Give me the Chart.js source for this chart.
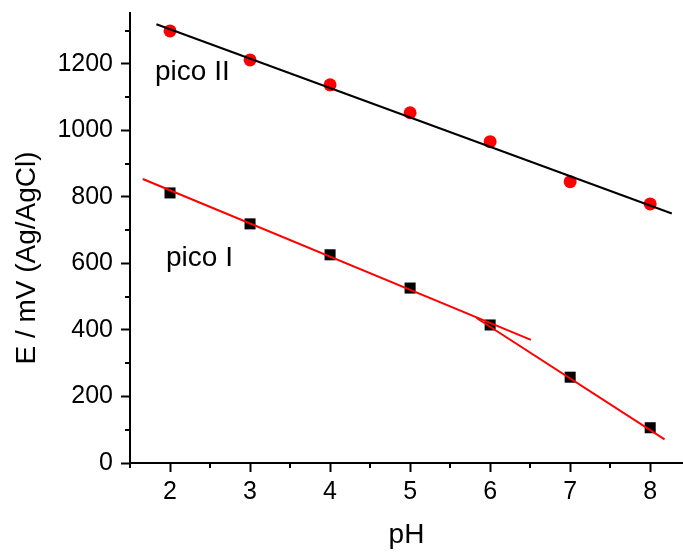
<!DOCTYPE html>
<html>
<head>
<meta charset="utf-8">
<script src="https://cdn.jsdelivr.net/npm/chart.js@4/dist/chart.umd.min.js"></script>
<style>
    body { margin: 0; background: #fff; }
    #wrap { width: 683px; height: 552px; }
</style>
</head>
<body>
<div id="wrap"><canvas id="ph-chart" width="683" height="552"></canvas></div>
<script>
// Measured potentials vs pH
const phValues = [2, 3, 4, 5, 6, 7, 8];
const picoII = [1299, 1212, 1137, 1053, 966, 846, 779];
const picoI = [812, 719, 626, 526, 415, 258, 106];

// Fitted lines (end points)
const fitIIx = [1.83, 8.27];
const fitIIy = [1319, 750];
const fitIax = [1.66, 6.51];
const fitIay = [854, 370];
const fitIbx = [5.83, 8.18];
const fitIby = [436, 71];

// Axis ticks
const xMajor = [2, 3, 4, 5, 6, 7, 8];
const xMinor = [1.5, 2.5, 3.5, 4.5, 5.5, 6.5, 7.5];
const yMajor = [0, 200, 400, 600, 800, 1000, 1200];
const yMinor = [100, 300, 500, 700, 900, 1100, 1300];

const FONT = 'Liberation Sans, Arial, Helvetica, sans-serif';

function toPoints(xs, ys) {
    return xs.map((x, i) => ({ x: x, y: ys[i] }));
}

// drop the label padding chart.js reserves so the plot box follows layout.padding
function fixBox(s) {
    s.paddingTop = 0;
    s.paddingBottom = 0;
    s.paddingLeft = 0;
    s.paddingRight = 0;
    if (s._margins) {
        s._margins.left = 0;
        s._margins.right = 0;
        s._margins.top = 0;
        s._margins.bottom = 0;
    }
}

// Minor ticks, axis title and curve labels
const extras = {
    id: 'extras',
    afterDraw(chart) {
        const ctx = chart.ctx;
        const xs = chart.scales.x;
        const ys = chart.scales.y;
        const area = chart.chartArea;
        ctx.save();
        ctx.strokeStyle = '#000';
        ctx.lineWidth = 2;
        ctx.beginPath();
        xMinor.forEach(v => {
            const px = Math.round(xs.getPixelForValue(v));
            ctx.moveTo(px, area.bottom);
            ctx.lineTo(px, area.bottom + 5);
        });
        yMinor.forEach(v => {
            const py = Math.round(ys.getPixelForValue(v));
            ctx.moveTo(area.left, py);
            ctx.lineTo(area.left - 5, py);
        });
        ctx.stroke();

        ctx.fillStyle = '#000';
        ctx.font = '28px ' + FONT;
        ctx.textBaseline = 'alphabetic';
        ctx.textAlign = 'left';
        ctx.fillText('pico II', 155, 80);
        ctx.fillText('pico I', 166, 266);

        ctx.translate(35, 258);
        ctx.rotate(-Math.PI / 2);
        ctx.textAlign = 'center';
        ctx.fillText('E / mV (Ag/AgCl)', 0, 0);
        ctx.restore();
    }
};

const ctx = document.getElementById('ph-chart').getContext('2d');
const chart = new Chart(ctx, {
    type: 'scatter',
    data: {
        datasets: [
            {
                data: toPoints(fitIIx, fitIIy),
                showLine: true,
                borderColor: '#000',
                borderWidth: 2,
                pointRadius: 0
            },
            {
                data: toPoints(fitIax, fitIay),
                showLine: true,
                borderColor: '#ff0000',
                borderWidth: 2,
                pointRadius: 0
            },
            {
                data: toPoints(fitIbx, fitIby),
                showLine: true,
                borderColor: '#ff0000',
                borderWidth: 2,
                pointRadius: 0
            },
            {
                data: toPoints(phValues, picoII),
                pointStyle: 'circle',
                pointRadius: 6.5,
                backgroundColor: '#ff0000',
                borderColor: '#ff0000',
                borderWidth: 0
            },
            {
                data: toPoints(phValues, picoI),
                pointStyle: 'rect',
                pointRadius: 7.8,
                backgroundColor: '#000',
                borderColor: '#000',
                borderWidth: 0
            }
        ]
    },
    options: {
        responsive: false,
        animation: false,
        layout: { autoPadding: false, padding: { top: 13, right: 0, left: 0, bottom: 0 } },
        plugins: {
            legend: { display: false },
            tooltip: { enabled: false }
        },
        scales: {
            x: {
                type: 'linear',
                min: 1.5,
                max: 8.41,
                afterBuildTicks: s => { s.ticks = xMajor.map(v => ({ value: v })); },
                afterFit: s => { s.height = 89; fixBox(s); },
                border: { color: '#000', width: 2 },
                grid: { drawOnChartArea: false, drawTicks: true, tickLength: 9, tickWidth: 2, tickColor: '#000' },
                ticks: { color: '#000', padding: 5, font: { size: 25, family: FONT }, callback: v => String(v) },
                title: { display: true, text: 'pH', color: '#000', padding: 0, font: { size: 28, family: FONT } }
            },
            y: {
                min: 0,
                max: 1353,
                afterBuildTicks: s => { s.ticks = yMajor.map(v => ({ value: v })); },
                afterFit: s => { s.width = 130; fixBox(s); },
                border: { color: '#000', width: 2 },
                grid: { drawOnChartArea: false, drawTicks: true, tickLength: 9, tickWidth: 2, tickColor: '#000' },
                ticks: { color: '#000', padding: 8, font: { size: 25, family: FONT }, callback: v => String(v) }
            }
        }
    },
    plugins: [extras]
});
</script>
</body>
</html>
